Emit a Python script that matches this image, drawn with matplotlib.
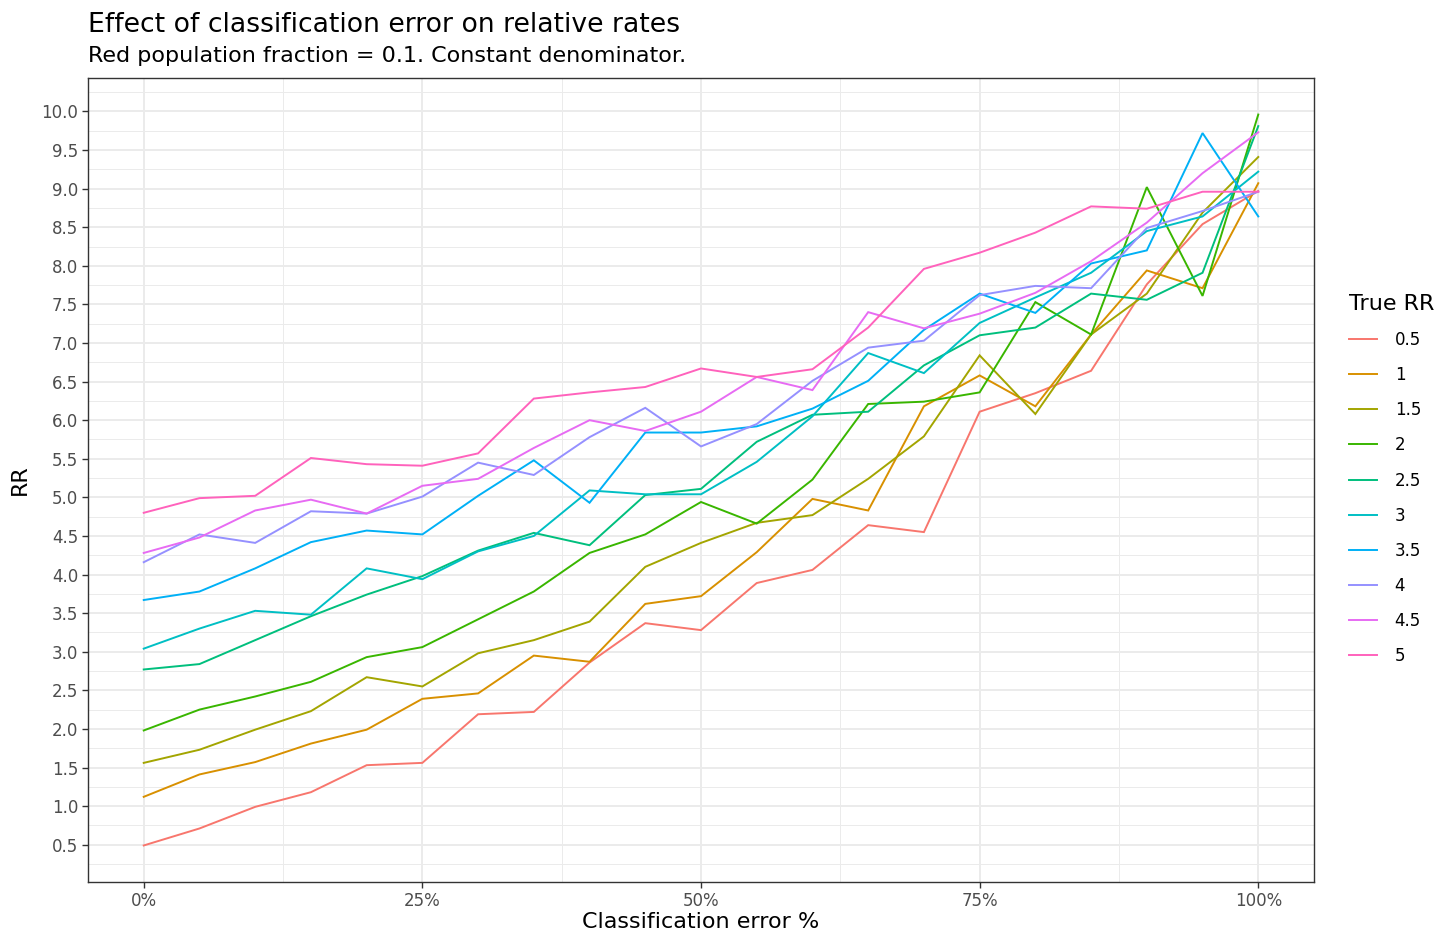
import numpy as np
import matplotlib
matplotlib.use('Agg')
import matplotlib.pyplot as plt
from matplotlib.ticker import MultipleLocator, FuncFormatter

# classification error (fraction) and the true RR groups
error = [0.00, 0.05, 0.10, 0.15, 0.20, 0.25, 0.30, 0.35, 0.40, 0.45, 0.50,
         0.55, 0.60, 0.65, 0.70, 0.75, 0.80, 0.85, 0.90, 0.95, 1.00]
true_rr = ['0.5', '1', '1.5', '2', '2.5', '3', '3.5', '4', '4.5', '5']

rr_05 = [0.49, 0.71, 0.99, 1.18, 1.53, 1.56, 2.19, 2.22, 2.86, 3.37, 3.28,
         3.89, 4.06, 4.64, 4.55, 6.11, 6.35, 6.64, 7.76, 8.54, 8.97]
rr_10 = [1.12, 1.41, 1.57, 1.81, 1.99, 2.39, 2.46, 2.95, 2.87, 3.62, 3.72,
         4.29, 4.98, 4.83, 6.18, 6.58, 6.18, 7.11, 7.94, 7.71, 9.07]
rr_15 = [1.56, 1.73, 1.99, 2.23, 2.67, 2.55, 2.98, 3.15, 3.39, 4.10, 4.41,
         4.67, 4.77, 5.24, 5.79, 6.84, 6.08, 7.11, 7.64, 8.69, 9.41]
rr_20 = [1.98, 2.25, 2.42, 2.61, 2.93, 3.06, 3.42, 3.78, 4.28, 4.52, 4.94,
         4.66, 5.23, 6.21, 6.24, 6.36, 7.53, 7.11, 9.02, 7.61, 9.96]
rr_25 = [2.77, 2.84, 3.15, 3.46, 3.74, 3.98, 4.31, 4.54, 4.38, 5.03, 5.11,
         5.72, 6.07, 6.11, 6.71, 7.10, 7.20, 7.64, 7.56, 7.91, 9.81]
rr_30 = [3.04, 3.30, 3.53, 3.48, 4.08, 3.94, 4.30, 4.50, 5.09, 5.04, 5.04,
         5.46, 6.05, 6.87, 6.61, 7.26, 7.59, 7.91, 8.45, 8.64, 9.22]
rr_35 = [3.67, 3.78, 4.08, 4.42, 4.57, 4.52, 5.02, 5.48, 4.93, 5.84, 5.84,
         5.92, 6.15, 6.51, 7.17, 7.64, 7.39, 8.03, 8.20, 9.72, 8.64]
rr_40 = [4.16, 4.52, 4.41, 4.82, 4.79, 5.01, 5.45, 5.29, 5.78, 6.16, 5.66,
         5.95, 6.51, 6.94, 7.03, 7.62, 7.74, 7.71, 8.49, 8.71, 8.96]
rr_45 = [4.28, 4.48, 4.83, 4.97, 4.79, 5.15, 5.24, 5.64, 6.00, 5.86, 6.11,
         6.56, 6.39, 7.40, 7.19, 7.38, 7.65, 8.06, 8.56, 9.20, 9.73]
rr_50 = [4.80, 4.99, 5.02, 5.51, 5.43, 5.41, 5.57, 6.28, 6.36, 6.43, 6.67,
         6.56, 6.66, 7.20, 7.96, 8.17, 8.43, 8.77, 8.74, 8.96, 8.96]

series = [rr_05, rr_10, rr_15, rr_20, rr_25, rr_30, rr_35, rr_40, rr_45, rr_50]

# ggplot default hue palette for 10 groups
colours = ['#F8766D', '#D89000', '#A3A500', '#39B600', '#00BF7D',
           '#00BFC4', '#00B0F6', '#9590FF', '#E76BF3', '#FF62BC']

W, H = 1456, 946
fig = plt.figure(figsize=(W / 100, H / 100), dpi=100)
ax = fig.add_axes([88 / W, 1 - 882 / H, (1314 - 88) / W, (882 - 78) / H])

for vals, lab, col in zip(series, true_rr, colours):
    ax.plot(error, vals, color=col, lw=1.4, label=lab, solid_joinstyle='miter')

# ggplot-ish expansion of 5%
allv = np.concatenate([np.array(s) for s in series])
lo, hi = allv.min(), allv.max()
pad = (hi - lo) * 0.05
ax.set_ylim(lo - pad, hi + pad)
ax.set_xlim(-0.05, 1.05)

ax.xaxis.set_major_locator(MultipleLocator(0.25))
ax.xaxis.set_minor_locator(MultipleLocator(0.125))
ax.yaxis.set_major_locator(MultipleLocator(0.5))
ax.yaxis.set_minor_locator(MultipleLocator(0.25))
ax.xaxis.set_major_formatter(FuncFormatter(lambda v, p: '%d%%' % round(v * 100)))
ax.yaxis.set_major_formatter(FuncFormatter(lambda v, p: '%.1f' % v))

ax.set_axisbelow(True)
ax.grid(which='major', color='#EBEBEB', lw=1.4)
ax.grid(which='minor', color='#EBEBEB', lw=0.7)
for sp in ax.spines.values():
    sp.set_color('#333333')
    sp.set_linewidth(1.0)
ax.tick_params(which='major', length=4, width=1.0, color='#333333',
               labelsize=12, labelcolor='#4D4D4D', pad=3)
ax.tick_params(which='minor', length=0)

fig.text(88 / W, 1 - 32 / H, 'Effect of classification error on relative rates',
         fontsize=19.2, va='baseline', ha='left')
fig.text(88 / W, 1 - 62 / H, 'Red population fraction = 0.1. Constant denominator.',
         fontsize=16, va='baseline', ha='left')
fig.text((88 + 1314) / 2 / W, 1 - 922 / H, 'Classification error %',
         fontsize=16, ha='center', va='center')
fig.text(20 / W, 1 - 480 / H, 'RR', fontsize=16, rotation=90,
         ha='center', va='center')

leg = fig.legend(loc='upper left', bbox_to_anchor=(1342 / W, 1 - 287 / H),
                 title='True RR', frameon=False, fontsize=12,
                 title_fontsize=16, handlelength=1.68, handletextpad=1.08,
                 labelspacing=1.03, borderaxespad=0)
leg._legend_box.align = 'left'

fig.savefig('out.png', dpi=100)
